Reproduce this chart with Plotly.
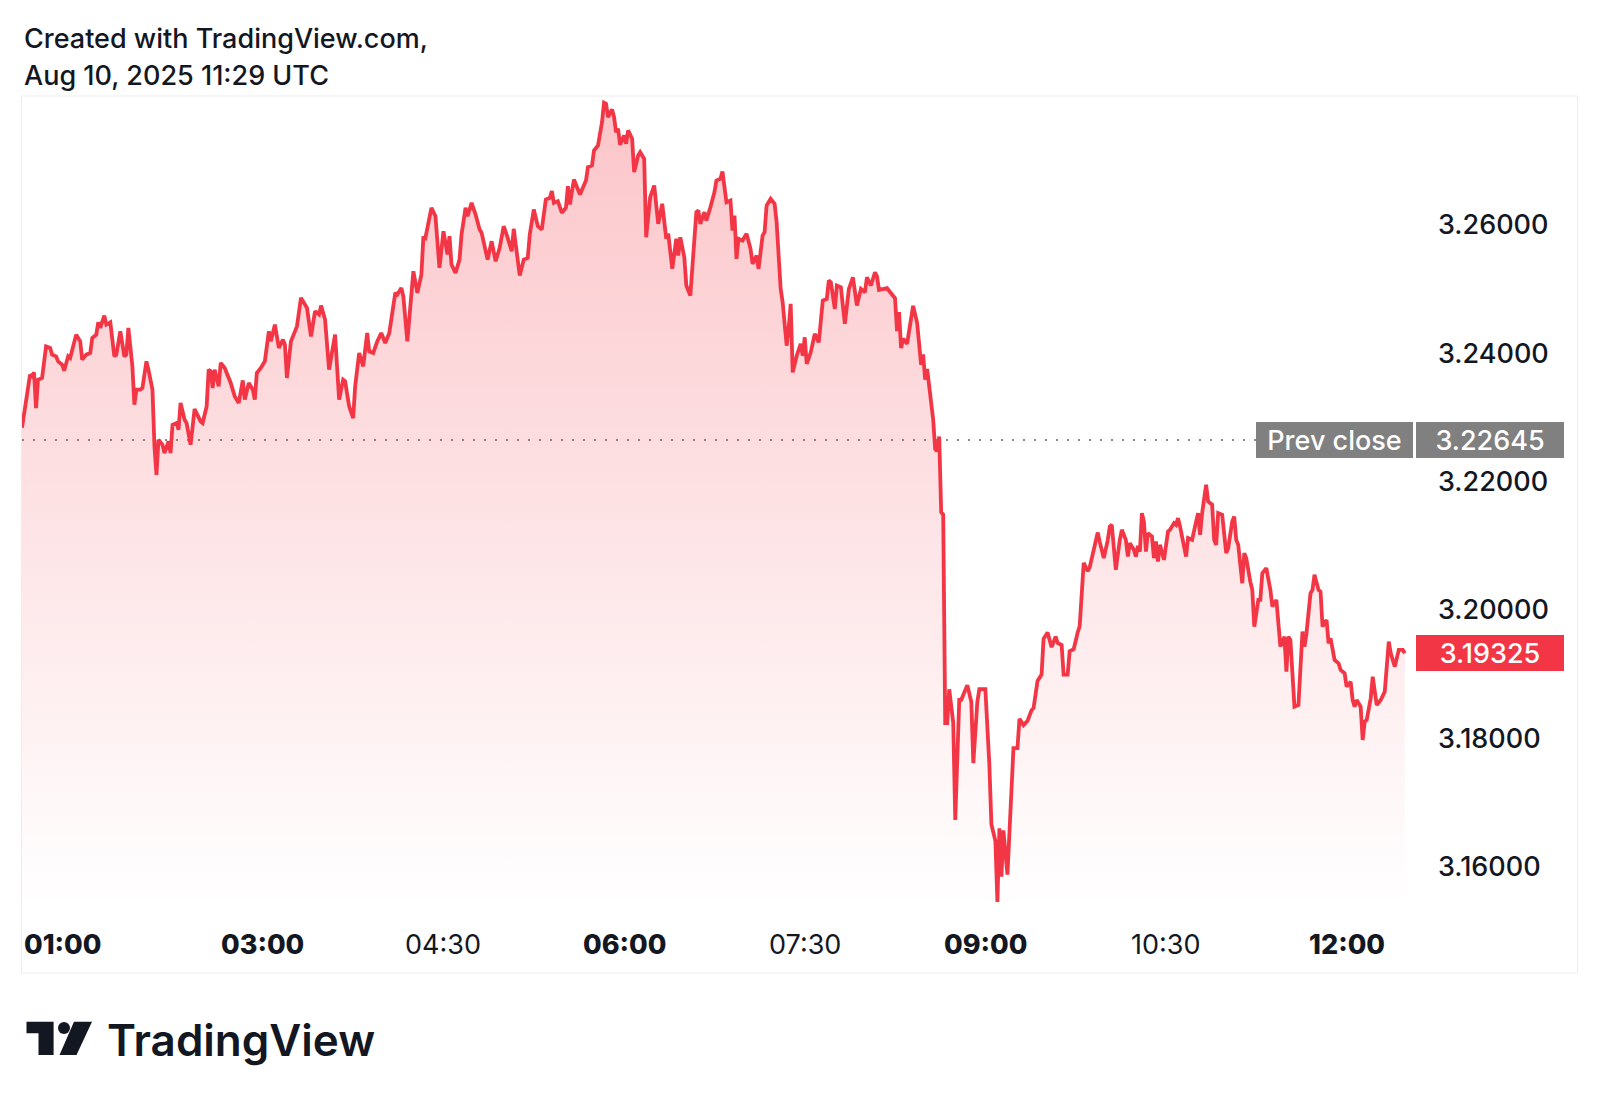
import plotly.graph_objects as go
import pandas as pd

# ---------------- data ----------------
DAY = "2025-08-10"

times = [
    "01:00","01:03","01:04","01:05","01:06","01:07","01:08","01:10","01:12","01:14",
    "01:15","01:17","01:18","01:20","01:21","01:23","01:24","01:27","01:29","01:30",
    "01:32","01:34","01:35","01:37","01:38","01:39","01:41","01:42","01:44","01:46",
    "01:47","01:49","01:51","01:52","01:53","01:55","01:56","01:57","01:59","02:00",
    "02:02","02:03","02:05","02:06","02:07","02:08","02:10","02:11","02:13","02:14",
    "02:15","02:17","02:18","02:19","02:21","02:22","02:24","02:26","02:29","02:30",
    "02:32","02:33","02:34","02:35","02:36","02:38","02:39","02:41","02:44","02:46",
    "02:48","02:50","02:51","02:53","02:55","02:56","02:57","02:59","03:01","03:03",
    "03:04","03:06","03:08","03:10","03:11","03:12","03:14","03:17","03:19","03:22",
    "03:24","03:26","03:28","03:29","03:31","03:33","03:35","03:36","03:38","03:40",
    "03:41","03:43","03:45","03:46","03:48","03:50","03:52","03:53","03:55","03:57",
    "03:59","04:01","04:03","04:06","04:07","04:09","04:10","04:12","04:15","04:17",
    "04:19","04:20","04:21","04:24","04:26","04:27","04:28","04:30","04:32","04:33",
    "04:34","04:36","04:38","04:39","04:41","04:42","04:44","04:46","04:48","04:49",
    "04:52","04:54","04:56","04:58","05:00","05:02","05:04","05:05","05:08","05:10",
    "05:12","05:13","05:15","05:17","05:19","05:21","05:23","05:24","05:25","05:27",
    "05:29","05:31","05:32","05:33","05:35","05:38","05:41","05:42","05:44","05:45",
    "05:47","05:49","05:50","05:51","05:52","05:54","05:55","05:56","05:57","05:58",
    "06:00","06:01","06:02","06:04","06:05","06:07","06:08","06:10","06:11","06:13",
    "06:15","06:17","06:19","06:21","06:22","06:24","06:26","06:27","06:28","06:30",
    "06:31","06:33","06:34","06:36","06:37","06:38","06:40","06:41","06:43","06:45",
    "06:46","06:48","06:49","06:50","06:51","06:53","06:54","06:55","06:56","06:57",
    "06:59","07:01","07:03","07:04","07:06","07:07","07:09","07:10","07:11","07:13",
    "07:15","07:16","07:18","07:19","07:21","07:22","07:23","07:24","07:26","07:28",
    "07:29","07:30","07:31","07:33","07:34","07:35","07:37","07:39","07:41","07:42",
    "07:43","07:45","07:46","07:48","07:50","07:52","07:54","07:56","07:58","08:00",
    "08:01","08:03","08:05","08:06","08:07","08:11","08:13","08:15","08:16","08:17",
    "08:18","08:19","08:21","08:24","08:26","08:28","08:29","08:30","08:31","08:32",
    "08:34","08:35","08:36","08:37","08:38","08:39","08:40","08:41","08:42","08:44",
    "08:45","08:47","08:48","08:51","08:53","08:54","08:56","08:57","09:00","09:02",
    "09:03","09:05","09:06","09:07","09:08","09:09","09:11","09:12","09:14","09:16",
    "09:17","09:19","09:21","09:23","09:24","09:26","09:28","09:29","09:31","09:33",
    "09:35","09:36","09:38","09:39","09:41","09:42","09:44","09:46","09:47","09:49",
    "09:51","09:52","09:54","09:56","09:57","09:59","10:01","10:02","10:03","10:05",
    "10:07","10:08","10:10","10:11","10:12","10:14","10:15","10:16","10:17","10:18",
    "10:19","10:20","10:21","10:23","10:24","10:25","10:26","10:27","10:29","10:31",
    "10:32","10:34","10:35","10:36","10:37","10:38","10:40","10:41","10:43","10:45",
    "10:46","10:47","10:48","10:50","10:51","10:53","10:54","10:55","10:56","10:58",
    "11:00","11:01","11:03","11:04","11:05","11:06","11:08","11:09","11:10","11:12",
    "11:13","11:14","11:16","11:17","11:18","11:20","11:22","11:23","11:25","11:26",
    "11:27","11:29","11:30","11:31","11:32","11:33","11:34","11:36","11:38","11:39",
    "11:40","11:42","11:43","11:44","11:46","11:47","11:48","11:50","11:51","11:52",
    "11:54","11:56","11:57","11:59","12:00","12:02","12:03","12:04","12:05","12:07",
    "12:08","12:09","12:10","12:12","12:13","12:15","12:17","12:19","12:21","12:22",
    "12:24","12:26","12:28","12:29",
]

prices = [
    3.22837, 3.23429, 3.23663, 3.23637, 3.23699, 3.23144, 3.23585, 3.23612, 3.24104, 3.24079,
    3.23975, 3.23949, 3.23871, 3.23819, 3.23726, 3.23949, 3.23924, 3.24287, 3.24182, 3.23897,
    3.23975, 3.24002, 3.24235, 3.24287, 3.24479, 3.24391, 3.24583, 3.24443, 3.24479, 3.23949,
    3.23975, 3.24338, 3.23949, 3.23975, 3.24391, 3.23793, 3.23196, 3.23429, 3.23429, 3.23456,
    3.23871, 3.23741, 3.23429, 3.22546, 3.22104, 3.22650, 3.22572, 3.22443, 3.22624, 3.22443,
    3.22884, 3.22910, 3.22806, 3.23222, 3.22962, 3.22910, 3.22572, 3.23129, 3.22935, 3.22910,
    3.23169, 3.23741, 3.23715, 3.23456, 3.23741, 3.23481, 3.23846, 3.23768, 3.23534, 3.23325,
    3.23222, 3.23574, 3.23274, 3.23534, 3.23429, 3.23274, 3.23690, 3.23768, 3.23871, 3.24338,
    3.24182, 3.24443, 3.24079, 3.24209, 3.24131, 3.23612, 3.24182, 3.24416, 3.24859, 3.24703,
    3.24260, 3.24650, 3.24599, 3.24739, 3.24521, 3.23741, 3.24157, 3.24287, 3.23274, 3.23585,
    3.23559, 3.23169, 3.22988, 3.23481, 3.24002, 3.23793, 3.24313, 3.24026, 3.24002, 3.24182,
    3.24313, 3.24157, 3.24313, 3.24937, 3.24910, 3.25015, 3.24884, 3.24182, 3.25274, 3.24937,
    3.25222, 3.25819, 3.25794, 3.26262, 3.26131, 3.25663, 3.25327, 3.25897, 3.25534, 3.25819,
    3.25378, 3.25249, 3.25456, 3.25846, 3.26262, 3.26131, 3.26340, 3.26157, 3.25924, 3.25872,
    3.25456, 3.25741, 3.25429, 3.25638, 3.25975, 3.25794, 3.25585, 3.25934, 3.25206, 3.25456,
    3.25482, 3.25846, 3.26235, 3.25975, 3.25924, 3.26391, 3.26418, 3.26521, 3.26340, 3.26365,
    3.26184, 3.26262, 3.26599, 3.26313, 3.26703, 3.26469, 3.26687, 3.26895, 3.26921, 3.27155,
    3.27233, 3.27596, 3.27899, 3.27883, 3.27674, 3.27794, 3.27674, 3.27440, 3.27493, 3.27244,
    3.27389, 3.27259, 3.27467, 3.27337, 3.26817, 3.27077, 3.27128, 3.27026, 3.25803, 3.26427,
    3.26609, 3.26012, 3.26324, 3.25779, 3.25857, 3.25311, 3.25779, 3.25518, 3.25803, 3.25492,
    3.25051, 3.24895, 3.25336, 3.26193, 3.26220, 3.26012, 3.26193, 3.26064, 3.26271, 3.26505,
    3.26687, 3.26714, 3.26828, 3.26531, 3.26349, 3.26376, 3.25908, 3.26142, 3.25467, 3.25779,
    3.25752, 3.25857, 3.25623, 3.25389, 3.25518, 3.25311, 3.25830, 3.25881, 3.26298, 3.26402,
    3.26324, 3.26037, 3.24999, 3.24790, 3.24115, 3.24376, 3.24765, 3.23699, 3.23959, 3.24142,
    3.23959, 3.24245, 3.23830, 3.24011, 3.24167, 3.24298, 3.24167, 3.24817, 3.24843, 3.25129,
    3.25102, 3.24687, 3.25051, 3.25024, 3.24454, 3.24999, 3.25180, 3.24739, 3.24999, 3.24946,
    3.25180, 3.25051, 3.25258, 3.25194, 3.24984, 3.25010, 3.24931, 3.24853, 3.24341, 3.24636,
    3.24078, 3.24223, 3.24143, 3.24734, 3.24472, 3.23816, 3.23980, 3.23585, 3.23751, 3.23487,
    3.22963, 3.22504, 3.22471, 3.22700, 3.21520, 3.21487, 3.18239, 3.18239, 3.18764, 3.18239,
    3.16730, 3.18600, 3.18600, 3.18829, 3.18568, 3.17615, 3.18568, 3.18764, 3.18764, 3.17584,
    3.16664, 3.16402, 3.15452, 3.16599, 3.15844, 3.16566, 3.15877, 3.16533, 3.17846, 3.17846,
    3.18304, 3.18206, 3.18271, 3.18437, 3.18469, 3.18895, 3.18993, 3.19551, 3.19649, 3.19420,
    3.19584, 3.19486, 3.19453, 3.18993, 3.18993, 3.19355, 3.19387, 3.19649, 3.19748, 3.20733,
    3.20602, 3.20667, 3.20929, 3.21205, 3.21060, 3.20806, 3.21091, 3.21299, 3.21325, 3.20624,
    3.21091, 3.21247, 3.21091, 3.20831, 3.21040, 3.20935, 3.20831, 3.20998, 3.20909, 3.21507,
    3.21376, 3.20909, 3.21196, 3.21143, 3.20806, 3.21065, 3.20753, 3.21013, 3.20779, 3.21221,
    3.21247, 3.21352, 3.21325, 3.21429, 3.21299, 3.21143, 3.20831, 3.21118, 3.21091, 3.21376,
    3.21507, 3.21169, 3.21507, 3.21949, 3.21688, 3.21637, 3.21091, 3.21013, 3.21507, 3.21481,
    3.20884, 3.20962, 3.21376, 3.21454, 3.21091, 3.21013, 3.20416, 3.20884, 3.20806, 3.20441,
    3.20312, 3.19740, 3.20156, 3.20156, 3.20572, 3.20650, 3.20312, 3.20052, 3.20156, 3.19793,
    3.19428, 3.19584, 3.19038, 3.19584, 3.19532, 3.19013, 3.18493, 3.18519, 3.19662, 3.19428,
    3.19637, 3.20260, 3.20312, 3.20546, 3.20312, 3.20285, 3.19740, 3.19844, 3.19481, 3.19559,
    3.19221, 3.19169, 3.19065, 3.19013, 3.18805, 3.18882, 3.18597, 3.18493, 3.18597, 3.18493,
    3.17974, 3.18259, 3.18285, 3.18624, 3.18960, 3.18519, 3.18597, 3.18727, 3.19506, 3.19325,
    3.19116, 3.19377, 3.19377, 3.19325,
]

prev_close = 3.22645
last_price = 3.19325

price_ticks = [3.16, 3.18, 3.20, 3.22, 3.24, 3.26]
price_tick_labels = ["3.16000", "3.18000", "3.20000", "3.22000", "3.24000", "3.26000"]

time_ticks = ["01:00", "03:00", "04:30", "06:00", "07:30", "09:00", "10:30", "12:00"]
time_tick_bold = [True, True, False, True, False, True, False, True]

title_lines = ["Created with TradingView.com,", "Aug 10, 2025 11:29 UTC"]
prev_close_label = "Prev close"
brand_name = "TradingView"

assert len(times) == len(prices), (len(times), len(prices))

# ---------------- layout helpers ----------------
FIG_W, FIG_H = 1600, 1105
OFF = 8                                  # page body margin of the html page
PL, PT, W, H = 22, 96, 1393, 809         # plot area, in page pixels
L, T = PL - OFF, PT - OFF                # in figure pixels
PB = PT + H

def px(x):          # page x -> paper x
    return (x - PL) / W

def py(y):          # page y -> paper y
    return (PB - y) / H

FONT = "Inter, Roboto, 'Noto Sans', sans-serif"
INK = "#131722"
RED = "#F23645"
GRAY = "#808080"

x_vals = pd.to_datetime([f"{DAY} {t}" for t in times])
x_start = pd.Timestamp(f"{DAY} 01:00")
x_end = x_start + pd.Timedelta(minutes=694.07)
y_lo, y_hi = 3.154045, 3.280031

fig = go.Figure()
fig.add_trace(go.Scatter(
    x=x_vals, y=prices, mode="lines",
    line=dict(color=RED, width=3.8),
    fill="tozeroy",
    fillgradient=dict(
        type="vertical", start=y_lo, stop=max(prices),
        colorscale=[[0, "rgba(242,54,69,0.0)"], [1, "rgba(242,54,69,0.29)"]],
    ),
    hoverinfo="skip", showlegend=False,
))

shapes = []
# chart pane border
shapes.append(dict(type="rect", xref="paper", yref="paper",
                   x0=px(21.5), x1=px(1577.5), y0=py(973), y1=py(96),
                   line=dict(color="#ededed", width=1), fillcolor="rgba(0,0,0,0)",
                   layer="below"))
# previous close dotted line
shapes.append(dict(type="line", xref="paper", yref="y",
                   x0=0, x1=1, y0=prev_close, y1=prev_close,
                   line=dict(color="#8a8a8a", width=2, dash="2px,9px"),
                   layer="below"))

# TradingView logo icon
def path(points):
    return "M " + " L ".join(f"{px(a):.6f},{py(b):.6f}" for a, b in points) + " Z"

shapes.append(dict(type="path", xref="paper", yref="paper",
                   path=path([(26.5, 1021.7), (53.6, 1021.7), (53.6, 1055),
                              (38.5, 1055), (38.5, 1033.3), (26.5, 1033.3)]),
                   fillcolor=INK, line=dict(width=0)))
shapes.append(dict(type="circle", xref="paper", yref="paper",
                   x0=px(58), x1=px(70), y0=py(1034), y1=py(1022),
                   fillcolor=INK, line=dict(width=0)))
shapes.append(dict(type="path", xref="paper", yref="paper",
                   path=path([(74, 1021.7), (92, 1021.7), (76.5, 1055), (59.5, 1055)]),
                   fillcolor=INK, line=dict(width=0)))

annotations = []
# header lines
for i, line in enumerate(title_lines):
    annotations.append(dict(text=line, xref="paper", yref="paper",
                            x=px(22), y=py(39 + 36.5 * i), xanchor="left", yanchor="middle",
                            showarrow=False,
                            font=dict(family=FONT, size=27, color=INK, weight=500)))

# time axis labels
for i, (t, bold) in enumerate(zip(time_ticks, time_tick_bold)):
    annotations.append(dict(text=t, xref="x", yref="paper",
                            x=pd.Timestamp(f"{DAY} {t}"), y=py(945),
                            xanchor="left" if i == 0 else "center", yanchor="middle",
                            showarrow=False,
                            font=dict(family=FONT, size=27, color=INK,
                                      weight=800 if bold else 400)))

# prev close label + value
box_font = dict(family=FONT, size=27, color="white", weight=500)
annotations.append(dict(text=prev_close_label, xref="paper", yref="y",
                        x=px(1256), y=prev_close, xanchor="left", yanchor="middle",
                        width=157, height=36, bgcolor=GRAY, borderpad=0, borderwidth=0,
                        align="center", showarrow=False, font=box_font))
annotations.append(dict(text=f"{prev_close:.5f}", xref="paper", yref="y",
                        x=px(1416), y=prev_close, xanchor="left", yanchor="middle",
                        width=148, height=36, bgcolor=GRAY, borderpad=0, borderwidth=0,
                        align="center", showarrow=False, font=box_font))
# last price label
annotations.append(dict(text=f"{last_price:.5f}", xref="paper", yref="y",
                        x=px(1416), y=last_price, xanchor="left", yanchor="middle",
                        width=148, height=36, bgcolor=RED, borderpad=0, borderwidth=0,
                        align="center", showarrow=False, font=box_font))

# brand text
annotations.append(dict(text=brand_name, xref="paper", yref="paper",
                        x=px(105), y=py(1040), xanchor="left", yanchor="middle",
                        showarrow=False,
                        font=dict(family=FONT, size=44, color=INK, weight=600)))

fig.update_layout(
    width=FIG_W, height=FIG_H,
    margin=dict(l=L, r=FIG_W - L - W, t=T, b=FIG_H - T - H, pad=0),
    paper_bgcolor="white", plot_bgcolor="white",
    showlegend=False,
    xaxis=dict(type="date", range=[x_start, x_end], showgrid=False, zeroline=False,
               showline=False, showticklabels=False, ticks="", fixedrange=True),
    yaxis=dict(side="right", range=[y_lo, y_hi], tickvals=price_ticks,
               ticktext=price_tick_labels, showgrid=False, zeroline=False,
               showline=False, ticks="", ticklabelstandoff=22,
               tickfont=dict(family=FONT, size=27, color=INK, weight=500),
               fixedrange=True),
    shapes=shapes,
    annotations=annotations,
)

fig.write_html("out.html", config={"displayModeBar": False})
